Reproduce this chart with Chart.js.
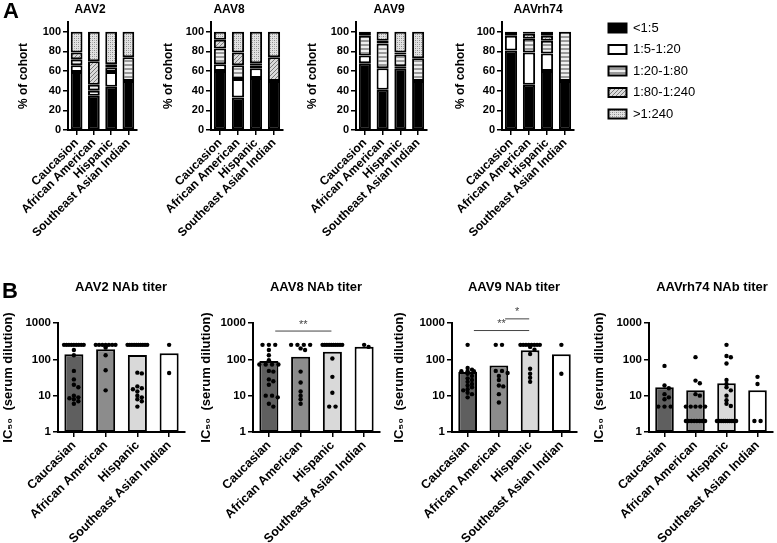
<!DOCTYPE html>
<html><head><meta charset="utf-8">
<script src="https://cdn.jsdelivr.net/npm/chart.js@4"></script>
<style>
html,body{margin:0;padding:0;background:#fff;}
#wrap{position:relative;width:777px;height:543px;overflow:hidden;background:#fff;}
canvas{position:absolute;}
</style></head><body><div id="wrap">
<canvas id="a1" width="141" height="270" style="left:0px;top:0px"></canvas>
<canvas id="a2" width="137" height="270" style="left:150px;top:0px"></canvas>
<canvas id="a3" width="136" height="270" style="left:295px;top:0px"></canvas>
<canvas id="a4" width="138" height="270" style="left:440px;top:0px"></canvas>
<canvas id="leg" width="260" height="130" style="left:600px;top:0px"></canvas>
<canvas id="b1" width="189" height="273" style="left:0px;top:270px"></canvas>
<canvas id="b2" width="189" height="273" style="left:195px;top:270px"></canvas>
<canvas id="b3" width="191" height="273" style="left:390px;top:270px"></canvas>
<canvas id="b4" width="189" height="273" style="left:588px;top:270px"></canvas>
</div>
<script>
// ---------------- DATA ----------------
const cohortLabels = ['Caucasion','African American','Hispanic','Southeast Asian Indian'];
const titerBins = ['<1:5','1:5-1:20','1:20-1:80','1:80-1:240','>1:240'];
const pctTicks = [0,20,40,60,80,100];
// % of cohort: one row per titer bin, one column per cohort
const pctAAV2   = [[59,35,44,50],[7,5,15,0],[6,6,5,24],[7,24,3,0],[21,30,33,26]];
const pctAAV8   = [[60,33,53,50],[7,19,10,0],[16,14,3,0],[9,13,2,24],[8,21,32,26]];
const pctAAV9   = [[68,41,63,50],[8,22,2,0],[20,25,12,23],[0,3,2,0],[4,9,21,27]];
const pctAAVrh74= [[81,46,60,50],[15,33,18,0],[4,14,13,50],[0,5,5,0],[0,2,4,0]];

const nabLabels = ['Caucasian','African American','Hispanic','Southeast Asian Indian'];
const nabTicks = [1,10,100,1000];
const gmAAV2 = [137,188,131,146];
const gmAAV8 = [90,118,162,223];
const gmAAV9 = [45,68,177,137];
const gmAAVrh74 = [17,14,22,14];
const ptsAAV2 = [
  [250,250,250,250,250,250,250,250,250,180,130,48,28,20,17,10,9,8.5,8,7,6],
  [250,250,250,250,250,250,250,230,210,130,50,14],
  [250,250,250,250,250,250,250,250,250,250,43,41,18,16,15,13,10,9,8,7,5],
  [250,42]
];
const ptsAAV8 = [
  [250,250,250,180,130,95,72,72,72,72,48,46,28,25,20,10,10,9,6,5],
  [250,250,250,250,200,180,46,23,13,10,8,6],
  [250,250,250,250,250,250,250,250,250,250,105,33,12,5,5],
  [220,250]
];
const ptsAAV9 = [
  [250,58,52,47,47,47,42,40,35,30,27,24,21,19,17,15,14,12,11,9],
  [250,250,48,48,42,35,27,19,18,11,6.5],
  [250,250,250,250,250,250,250,250,220,185,140,55,40,31,24],
  [250,40]
];
const ptsAAVrh74 = [
  [66,19,16,11,9,8,5,5,5],
  [115,26,22,11,10,5,5,5,5,5,2,2,2,2,2,2,2,2],
  [250,123,114,77,27,21,17,14,10,7.5,6,5.2,2,2,2,2,2,2,2,2,2,2],
  [33,21,2,2]
];
const sigAAV8 = [{from:0,to:2,at:600,mark:'**'}];
const sigAAV9 = [{from:0,to:2,at:620,mark:'**'},{from:1,to:2,at:1300,mark:'*'}];

// ---------------- SETUP ----------------
const FONT = '"Liberation Sans", Arial, sans-serif';
Chart.defaults.font.family = FONT;
Chart.defaults.color = '#000';

function makePattern(kind){
  const c=document.createElement('canvas'); const x=c.getContext('2d');
  if(kind==='h'){c.width=4;c.height=4;x.fillStyle='#efefef';x.fillRect(0,0,4,4);x.fillStyle='#9a9a9a';x.fillRect(0,0,4,2);}
  else if(kind==='d'){c.width=4;c.height=4;x.fillStyle='#dadada';x.fillRect(0,0,4,4);x.strokeStyle='#7a7a7a';x.lineWidth=1;x.beginPath();x.moveTo(0,4);x.lineTo(4,0);x.moveTo(-1,1);x.lineTo(1,-1);x.moveTo(3,5);x.lineTo(5,3);x.stroke();}
  else {c.width=4;c.height=4;x.fillStyle='#e2e2e2';x.fillRect(0,0,4,4);x.fillStyle='#8a8a8a';x.fillRect(0,0,1,1);x.fillRect(2,2,1,1);x.fillStyle='#b0b0b0';x.fillRect(2,0,1,1);x.fillRect(0,2,1,1);}
  return x.createPattern(c,'repeat');
}
const binFills = ['#000000','#ffffff',makePattern('h'),makePattern('d'),makePattern('c')];
const nabFills = ['#5f5f5f','#8c8c8c','#d9d9d9','#ffffff'];

const ptitle = {
  id:'ptitle',
  afterDraw(chart,args,opts){
    if(!opts || !opts.text) return;
    const c=chart.ctx; c.save();
    c.fillStyle='#000'; c.textBaseline='middle';
    c.font='bold '+opts.size+'px '+FONT; c.textAlign='center';
    c.fillText(opts.text,opts.x,opts.y);
    if(opts.letter){ c.font='bold 22px '+FONT; c.textAlign='left'; c.fillText(opts.letter,opts.lx,opts.ly); }
    c.restore();
  }
};
const sig = {
  id:'sig',
  afterDatasetsDraw(chart,args,opts){
    if(!opts || !opts.items) return;
    const xs=chart.scales.xs, y=chart.scales.y, c=chart.ctx;
    c.save(); c.strokeStyle='#444'; c.lineWidth=1; c.fillStyle='#444';
    c.font='11px '+FONT; c.textAlign='center'; c.textBaseline='bottom';
    opts.items.forEach(it=>{
      const x1=xs.getPixelForValue(it.from+0.2), x2=xs.getPixelForValue(it.to-0.03), yy=y.getPixelForValue(it.at);
      c.beginPath(); c.moveTo(x1,yy); c.lineTo(x2,yy); c.stroke();
      c.fillText(it.mark,(x1+x2)/2,yy-1);
    });
    c.restore();
  }
};
Chart.register(ptitle, sig);

function stackChart(id,title,pct,o){
  new Chart(document.getElementById(id),{
    type:'bar',
    data:{labels:cohortLabels,datasets:titerBins.map((b,i)=>({label:b,data:pct[i],backgroundColor:binFills[i],borderColor:'#000',borderWidth:2,borderSkipped:false,barPercentage:0.68,categoryPercentage:1}))},
    options:{
      responsive:false,animation:false,devicePixelRatio:1,
      layout:{padding:{top:22,right:4,left:0,bottom:0}},
      plugins:{legend:{display:false},tooltip:{enabled:false},
        ptitle:{text:title,x:o.tx,y:10,size:12,letter:o.letter,lx:3,ly:12}},
      scales:{
        x:{stacked:true,
          grid:{display:true,drawOnChartArea:false,offset:false,color:'#000',lineWidth:1.5,tickLength:5},
          border:{color:'#000',width:2},
          ticks:{color:'#000',font:{size:12,weight:'bold'},minRotation:45,maxRotation:45,autoSkip:false,padding:1},
          afterFit:s=>{s.height=140;}},
        y:{stacked:true,min:0,max:110,
          afterBuildTicks:s=>{s.ticks=pctTicks.map(v=>({value:v}));},
          afterFit:s=>{s.width=o.yw;},
          grid:{drawOnChartArea:false,color:'#000',lineWidth:1.5,tickLength:5},
          border:{color:'#000',width:2},
          ticks:{color:'#000',font:{size:11,weight:'bold'},padding:2},
          title:{display:true,text:'% of cohort',color:'#000',font:{size:12,weight:'bold'},padding:{top:o.tp,bottom:0}}}
      }
    }
  });
}

function swarm(vals,ci){
  const out=[]; const groups=new Map();
  vals.forEach(v=>groups.set(v,(groups.get(v)||0)+1));
  [...groups.keys()].sort((a,b)=>b-a).forEach(v=>{
    const n=groups.get(v);
    if(n>1){ const step=Math.min(0.2,0.62/(n-1)); for(let k=0;k<n;k++) out.push({x:ci+(k-(n-1)/2)*step,y:v}); }
    else{
      const ly=Math.log10(v); let dx=0;
      for(const c of [0,0.14,-0.14,0.28,-0.28]){
        if(!out.some(p=>Math.abs(Math.log10(p.y)-ly)<0.09 && Math.abs(p.x-(ci+c))<0.12)){dx=c;break;}
      }
      out.push({x:ci+dx,y:v});
    }
  });
  return out;
}

function nabChart(id,title,gm,pts,sigItems,o){
  const scat = pts.flatMap((arr,ci)=>swarm(arr,ci));
  new Chart(document.getElementById(id),{
    type:'bar',
    data:{labels:nabLabels,datasets:[
      {type:'scatter',data:scat,xAxisID:'xs',yAxisID:'y',backgroundColor:'#000',borderColor:'#000',borderWidth:0,pointRadius:2.2,order:0},
      {type:'bar',data:gm,xAxisID:'x',yAxisID:'y',grouped:false,backgroundColor:nabFills,borderColor:'#000',borderWidth:2,borderSkipped:false,barPercentage:0.6,categoryPercentage:1,order:1}
    ]},
    options:{
      responsive:false,animation:false,devicePixelRatio:1,
      layout:{padding:{top:53,right:o.rp,left:0,bottom:0}},
      plugins:{legend:{display:false},tooltip:{enabled:false},
        ptitle:{text:title,x:o.tx,y:17,size:13,letter:o.letter,lx:2,ly:22},
        sig:{items:sigItems}},
      scales:{
        x:{type:'category',offset:true,
          grid:{display:true,drawOnChartArea:false,offset:false,color:'#000',lineWidth:1.5,tickLength:5},
          border:{color:'#000',width:2},
          ticks:{color:'#000',font:{size:12.5,weight:'bold'},minRotation:45,maxRotation:45,autoSkip:false,padding:1},
          afterFit:s=>{s.height=111;}},
        xs:{type:'linear',display:false,offset:false,min:-0.5,max:3.5,position:'bottom'},
        y:{type:'logarithmic',min:1,max:1000,
          afterBuildTicks:s=>{s.ticks=nabTicks.map(v=>({value:v}));},
          afterFit:s=>{s.width=o.yw;},
          grid:{drawOnChartArea:false,color:'#000',lineWidth:1.5,tickLength:5},
          border:{color:'#000',width:2},
          ticks:{color:'#000',font:{size:11.5,weight:'bold'},padding:2,callback:v=>String(v)},
          title:{display:true,text:'IC\u2085\u2080  (serum dilution)',color:'#000',font:{size:13,weight:'bold'},padding:{top:o.tp,bottom:0}}}
      }
    }
  });
}

stackChart('a1','AAV2',pctAAV2,{yw:68,tp:16,tx:90,letter:'A'});
stackChart('a2','AAV8',pctAAV8,{yw:61,tp:11,tx:79});
stackChart('a3','AAV9',pctAAV9,{yw:61,tp:10,tx:94});
stackChart('a4','AAVrh74',pctAAVrh74,{yw:62,tp:13,tx:98});

new Chart(document.getElementById('leg'),{
  type:'bar',
  data:{labels:[],datasets:titerBins.map((b,i)=>({label:b,data:[],backgroundColor:binFills[i],borderColor:'#000',borderWidth:2}))},
  options:{responsive:false,animation:false,devicePixelRatio:1,
    layout:{padding:{top:13,left:0}},
    scales:{x:{display:false},y:{display:false}},
    plugins:{tooltip:{enabled:false},
      legend:{position:'left',align:'start',labels:{boxWidth:18,boxHeight:9,padding:8.5,color:'#000',font:{size:13}}}}}
});

nabChart('b1','AAV2 NAb titer',gmAAV2,ptsAAV2,[],{yw:58,tp:1,tx:121,rp:4,letter:'B'});
nabChart('b2','AAV8 NAb titer',gmAAV8,ptsAAV8,sigAAV8,{yw:58,tp:4,tx:121,rp:4});
nabChart('b3','AAV9 NAb titer',gmAAV9,ptsAAV9,sigAAV9,{yw:62,tp:2,tx:124,rp:4});
nabChart('b4','AAVrh74 NAb titer',gmAAVrh74,ptsAAVrh74,[],{yw:61,tp:4,tx:124,rp:2});
</script>
</body></html>
